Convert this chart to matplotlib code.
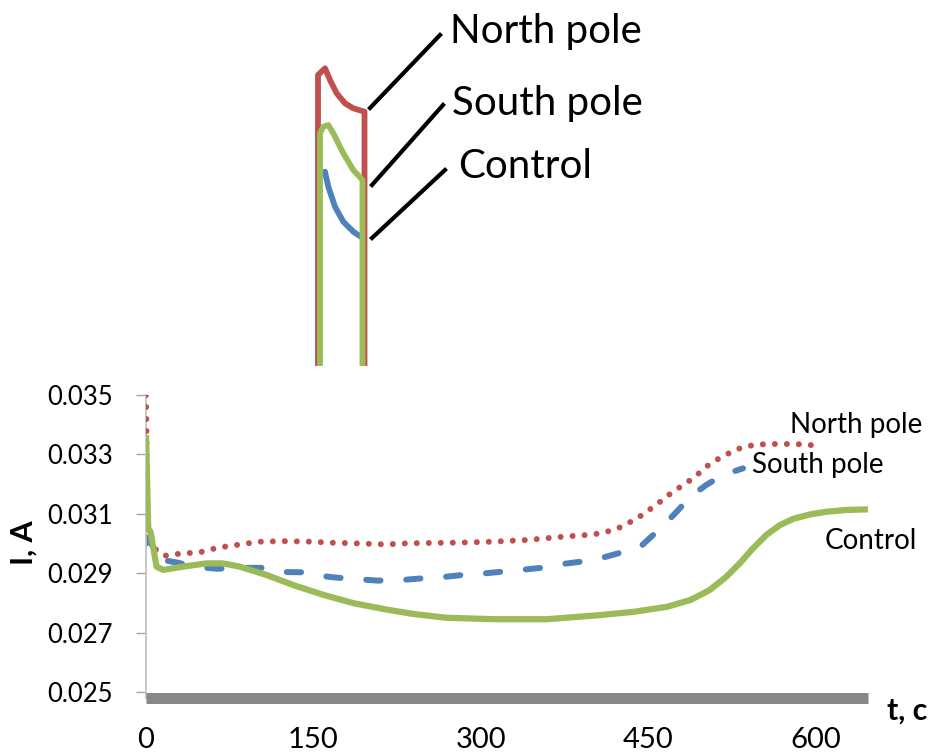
import matplotlib
matplotlib.use("Agg")
import matplotlib.pyplot as plt

plt.rcParams['font.family'] = ['Lato', 'DejaVu Sans']

# main chart, current I (A) vs time t (s)
north_t = [0, 1.5, 5, 8, 17, 29, 39, 50, 59, 70, 81, 92, 102, 123, 151, 162, 184, 215,
           236, 281, 310, 342, 374, 396, 407, 419, 428, 437, 446, 454, 462, 471, 479,
           488, 496, 503, 511, 520, 528, 537, 547, 559, 571, 582, 594, 604]
north_i = [0.0350, 0.0306, 0.0302, 0.02982, 0.02959, 0.02965, 0.02968, 0.02972, 0.02981,
           0.02989, 0.02995, 0.03001, 0.03006, 0.03008, 0.03006, 0.03003, 0.03001, 0.02997,
           0.03001, 0.03003, 0.03006, 0.03012, 0.03023, 0.03029, 0.03034, 0.03046, 0.03059,
           0.03079, 0.03099, 0.03122, 0.03144, 0.03171, 0.03191, 0.03214, 0.03238, 0.03261,
           0.03281, 0.03299, 0.03315, 0.03326, 0.03333, 0.03335, 0.03335, 0.03335, 0.03332,
           0.03329]

south_t = [0, 2, 11, 29, 45, 64, 84, 105, 123, 142, 151, 168, 189, 208, 229, 245, 266,
           286, 305, 333, 354, 371, 390, 407, 426, 443, 456, 467, 477, 488, 502, 517, 535]
south_i = [0.0300, 0.0302, 0.02947, 0.02935, 0.02921, 0.02915, 0.02918, 0.02918, 0.02904,
           0.02903, 0.02894, 0.02886, 0.0288, 0.02875, 0.02877, 0.02882, 0.02887, 0.02895,
           0.0290, 0.0291, 0.02918, 0.0293, 0.02939, 0.0295, 0.0297, 0.02989, 0.03034,
           0.03073, 0.03113, 0.03158, 0.03197, 0.03231, 0.03253]

control_t = [0, 2, 4, 9.5, 15.5, 33, 54, 69, 84, 108, 132, 159, 186, 215, 239, 269, 314,
             359, 407, 437, 467, 488, 505, 520, 532, 544, 556, 568, 580, 595, 610, 628, 647]
control_i = [0.03365, 0.0305, 0.0304, 0.02922, 0.02911, 0.02922, 0.02933, 0.02933, 0.02922,
             0.02894, 0.0286, 0.02827, 0.02799, 0.02778, 0.02763, 0.0275, 0.02745, 0.02745,
             0.02759, 0.0277, 0.02787, 0.0281, 0.02843, 0.02888, 0.02933, 0.02984, 0.03029,
             0.03062, 0.03083, 0.03098, 0.03107, 0.03113, 0.03115]

x_ticks = [0, 150, 300, 450, 600]
y_ticks = [0.025, 0.027, 0.029, 0.031, 0.033, 0.035]

# inset: schematic of the first pulse (arbitrary units)
in_north_t = [18, 18, 25, 30, 36.7, 45, 53.3, 64.5, 64.5]
in_north_v = [7, 295, 301.7, 290, 276.7, 266.7, 261.7, 258.3, 7]
in_south_t = [25, 28.3, 35, 43.3, 53.3, 61.7]
in_south_v = [198.3, 183.3, 163.3, 148.3, 138.3, 132.7]
in_control_t = [20, 20, 23.3, 28.3, 33.3, 43.3, 53.3, 62.5, 62.5]
in_control_v = [7, 237, 243.3, 245, 236.7, 216.7, 200, 190, 7]

red = '#C0504D'
blue = '#4F81BD'
green = '#9BBB59'

W, H = 934, 754
fig = plt.figure(figsize=(W / 100, H / 100), dpi=100)

ax = fig.add_axes([146 / W, 1 - 697.5 / H, (868 - 146) / W, (697.5 - 395) / H])
ax.plot(north_t, north_i, color=red, lw=4.3, linestyle=(0, (0.01, 2.0)),
        dash_capstyle='round', zorder=3)
ax.plot(south_t, south_i, color=blue, lw=4.3, linestyle=(0, (2.4, 4.3)),
        dash_capstyle='round', zorder=2)
ax.plot(control_t, control_i, color=green, lw=4.5, solid_capstyle='butt',
        solid_joinstyle='round', zorder=4)

ax.set_xlim(0, 647)
ax.set_ylim(0.024815, 0.035)
ax.set_xticks(x_ticks)
ax.set_xticklabels([str(v) for v in x_ticks], fontsize=21)
ax.set_yticks(y_ticks)
ax.set_yticklabels([f"{v:.3f}" for v in y_ticks], fontsize=18.5)
ax.tick_params(axis='x', length=0, pad=21)
ax.tick_params(axis='y', length=7, width=1, color='#A6A6A6', pad=17)

for s in ['top', 'right']:
    ax.spines[s].set_visible(False)
ax.spines['left'].set_color('#BFBFBF')
ax.spines['left'].set_linewidth(1.2)
ax.spines['bottom'].set_color('#878787')
ax.spines['bottom'].set_linewidth(7.9)
ax.spines['bottom'].set_capstyle('butt')

ax.text(577, 0.03399, 'North pole', fontsize=20, ha='left', va='center')
ax.text(543, 0.03264, 'South pole', fontsize=20, ha='left', va='center')
ax.text(608, 0.03008, 'Control', fontsize=20, ha='left', va='center')

fig.text(24 / W, 1 - 543 / H, 'I, A', fontsize=22, fontweight='bold',
         rotation=90, ha='center', va='center')
fig.text(887 / W, 1 - 711 / H, 't, c', fontsize=22, fontweight='bold',
         ha='left', va='center')

# inset
ins = fig.add_axes([300 / W, 1 - 370 / H, 360 / W, 370 / H])
ins.set_xlim(0, 360)
ins.set_ylim(0, 370)
ins.axis('off')
ins.plot(in_north_t, in_north_v, color=red, lw=4.2, solid_joinstyle='round')
ins.plot(in_south_t, in_south_v, color=blue, lw=4.2, solid_capstyle='round')
ins.plot(in_control_t, in_control_v, color=green, lw=4.2, solid_joinstyle='round')

leaders = [((70, 140), (262, 335), 'North pole', 150, 339),
           ((72, 143), (185, 265), 'South pole', 152, 267),
           ((72, 145), (132, 200), 'Control', 158, 203)]
for lx, ly, name, tx, ty in leaders:
    ins.plot(lx, ly, color='black', lw=3)
    ins.text(tx, ty, name, fontsize=29, ha='left', va='center')

fig.savefig('out.png', dpi=100)
